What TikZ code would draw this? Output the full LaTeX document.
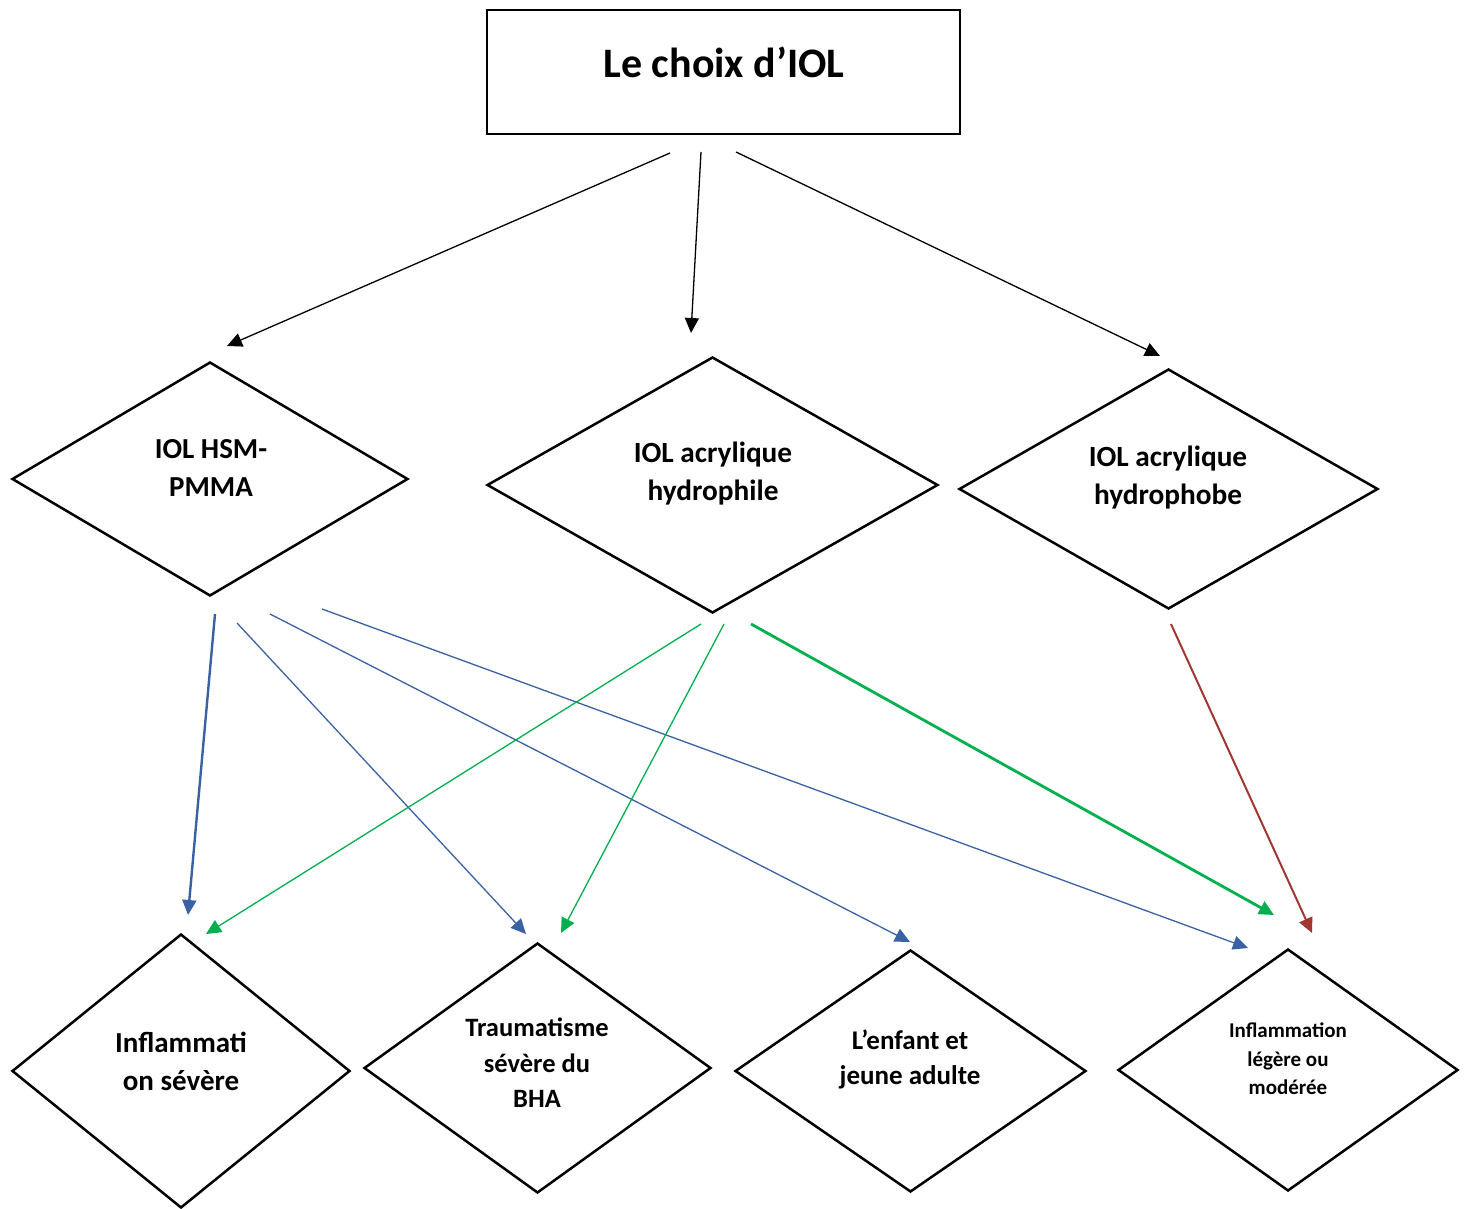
\documentclass[tikz,border=0pt]{standalone}
\usepackage{fontspec}
\setmainfont{Carlito}
\usetikzlibrary{arrows.meta,shapes.geometric}
\definecolor{linkblue}{RGB}{58,98,163}
\definecolor{linkgreen}{RGB}{0,176,80}
\definecolor{linkred}{RGB}{160,55,50}
\begin{document}
\begin{tikzpicture}[x=1pt,y=-1pt,
  rootbox/.style={draw, line width=2.6pt, inner sep=0pt},
  choice/.style={draw, diamond, line width=2.5pt, inner sep=0pt},
  lbl/.style={align=center, inner sep=0pt},
  arr/.style={-{Triangle[length=15pt,width=14pt]}, line width=1.3pt},
]
\useasboundingbox (0,0) rectangle (1466,1209);

% root
\node[rootbox, minimum width=473pt, minimum height=124pt] (root) at (723.5,72) {};
\node[lbl, font=\fontsize{42}{48}\selectfont\bfseries] (roottext) at (724,62) {Le choix d’IOL};

% lens types
\node[choice, minimum width=396pt, minimum height=234pt] (hsm) at (210,479) {};
\node[choice, minimum width=451pt, minimum height=256pt] (phil) at (712.5,485) {};
\node[choice, minimum width=419pt, minimum height=240pt] (phob) at (1168.5,489) {};
\node[lbl, font=\fontsize{29}{38}\selectfont\bfseries] (hsmtext) at (211,468) {IOL HSM-\\PMMA};
\node[lbl, font=\fontsize{29.3}{38}\selectfont\bfseries] (philtext) at (713,474) {IOL acrylique\\hydrophile};
\node[lbl, font=\fontsize{29.3}{38}\selectfont\bfseries] (phobtext) at (1168,478) {IOL acrylique\\hydrophobe};

% indications
\node[choice, minimum width=338pt, minimum height=274pt] (sev) at (181,1071) {};
\node[choice, minimum width=347pt, minimum height=250pt] (trau) at (537.5,1068) {};
\node[choice, minimum width=351pt, minimum height=242pt] (enf) at (910.5,1071) {};
\node[choice, minimum width=340pt, minimum height=242pt] (leg) at (1288,1070) {};
\node[lbl, font=\fontsize{29}{38}\selectfont\bfseries] (sevtext) at (181,1061) {Inflammati\\on sévère};
\node[lbl, font=\fontsize{26.5}{35.5}\selectfont\bfseries] (trautext) at (537,1063) {Traumatisme\\sévère du\\BHA};
\node[lbl, font=\fontsize{27}{35}\selectfont\bfseries] (enftext) at (910,1059) {L’enfant et\\jeune adulte};
\node[lbl, font=\fontsize{21}{28.5}\selectfont\bfseries] (legtext) at (1288,1059) {Inflammation\\légère ou\\modérée};

% connector end points
\coordinate (r1) at (670,153);  \coordinate (hsmin) at (227,346);
\coordinate (r2) at (701,152);  \coordinate (philin) at (691,333);
\coordinate (r3) at (736,152);  \coordinate (phobin) at (1160,356);

\coordinate (h1) at (215,614);  \coordinate (sevb) at (188,915);
\coordinate (h2) at (237,623);  \coordinate (traub) at (526,934);
\coordinate (h3) at (270,614);  \coordinate (enfb) at (910,942);
\coordinate (h4) at (322,609);  \coordinate (legb) at (1248,948);

\coordinate (p1) at (701,624);  \coordinate (sevg) at (206,934);
\coordinate (p2) at (724,624);  \coordinate (traug) at (561,933);
\coordinate (p3) at (751,624);  \coordinate (legg) at (1274,915);

\coordinate (o1) at (1171,624); \coordinate (legr) at (1312,933);

% root to lens types
\draw[arr] (r1) -- (hsmin);
\draw[arr] (r2) -- (philin);
\draw[arr] (r3) -- (phobin);

% HSM-PMMA
\draw[arr, linkblue, line width=2.4pt] (h1) -- (sevb);
\draw[arr, linkblue] (h2) -- (traub);
\draw[arr, linkblue] (h3) -- (enfb);
\draw[arr, linkblue] (h4) -- (legb);

% hydrophile
\draw[arr, linkgreen] (p1) -- (sevg);
\draw[arr, linkgreen] (p2) -- (traug);
\draw[arr, linkgreen, line width=2.8pt] (p3) -- (legg);

% hydrophobe
\draw[arr, linkred, line width=2pt] (o1) -- (legr);
\end{tikzpicture}
\end{document}
